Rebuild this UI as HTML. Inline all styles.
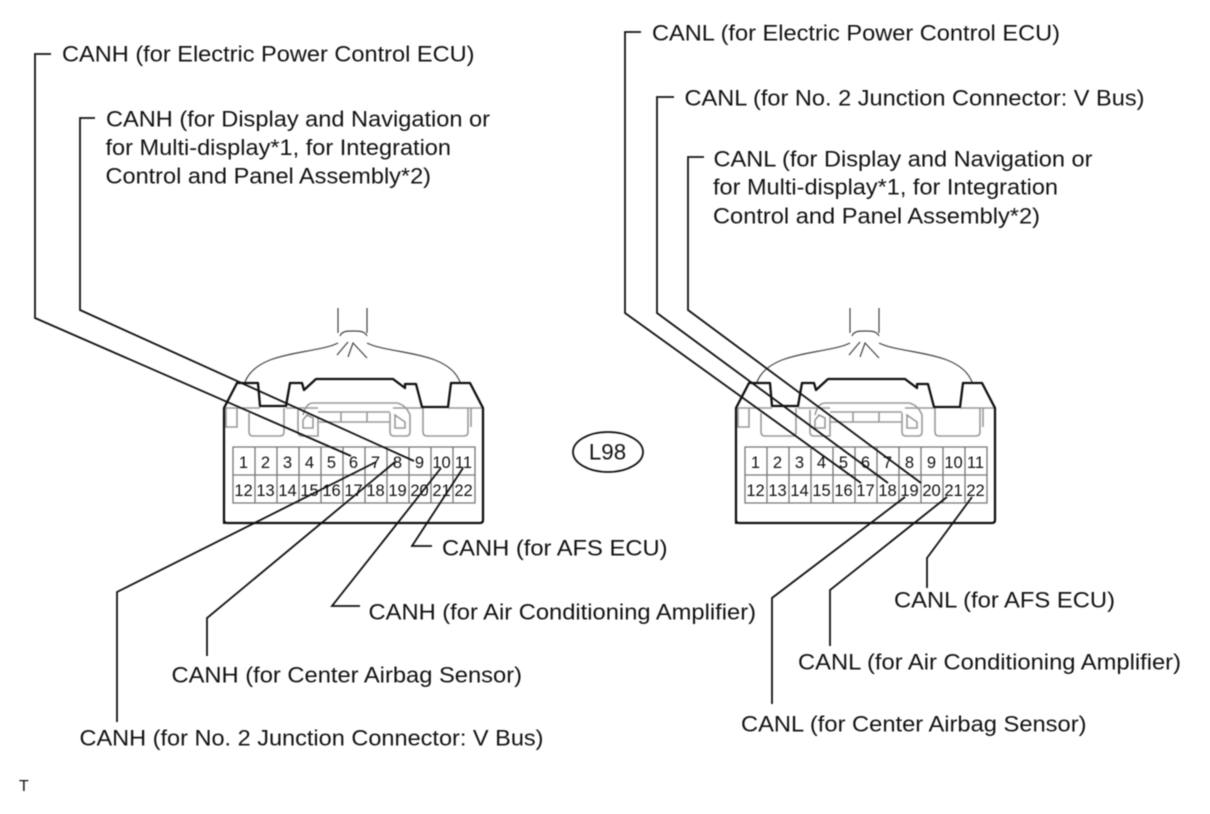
<!DOCTYPE html>
<html><head><meta charset="utf-8"><style>
html,body{margin:0;padding:0;background:#fff}
svg{display:block;filter:blur(0.55px)}
text{font-family:"Liberation Sans",sans-serif;fill:#111}
.l{font-size:22.3px}
.p{font-size:16.5px;text-anchor:middle}
.w{fill:none;stroke:#111;stroke-width:1.8}
.o{fill:none;stroke:#111;stroke-width:2.3;stroke-linejoin:round}
.g{fill:none;stroke:#999;stroke-width:1.6}
.h{fill:none;stroke:#444;stroke-width:1.2}
</style></head><body>
<svg width="1210" height="814" viewBox="0 0 1210 814" xmlns="http://www.w3.org/2000/svg">

<!-- LEFT CONNECTOR -->
<g>
<path class="h" d="M338 308V333M367 308V333M338 343C325 350 290 352 270 360C255 366 248 374 245 382M367 343C380 350 415 352 435 360C450 366 457 374 460 382M340 336C342 331 347 331 353 331C359 331 365 331 367 336M337 355L348 342M348 357L353 343L367 358"/>
<path class="g" d="M225 408H260M286 408H318M393 408H422M448 408H483M226 408V427H237V408M249 413V432Q249 436 253 436H280Q284 436 284 432V408M298 410V432Q298 436 302 436H318V417M303 415Q306 403 313 403H397Q406 405 410 415V432Q410 436 406 436H394Q390 436 390 432V413M318 412H390M318 422H390M341 412V422M367 412V422M303 428H313V418L307 415L303 420ZM395 428H405V422L395 415ZM423 408V432Q423 436 427 436H464Q468 436 468 432V408M471 408V427"/>
<path class="o" d="M224 523V408L237 383H258L260 406H286L290 383H302L304 390L316 379H393L405 388V384H416L422 407H448L451 383H470L483 408V520Q483 523 480 523H227Q224 523 224 520Z"/>
<path d="M233 447H475V503H233ZM233 475H475M255 447V503M277 447V503M299 447V503M321 447V503M343 447V503M365 447V503M387 447V503M409 447V503M431 447V503M453 447V503" fill="none" stroke="#777" stroke-width="1.3"/>
<text class="p" x="243.5" y="468">1</text><text class="p" x="265.5" y="468">2</text><text class="p" x="287.5" y="468">3</text><text class="p" x="309.5" y="468">4</text><text class="p" x="331.5" y="468">5</text><text class="p" x="353.5" y="468">6</text><text class="p" x="375.5" y="468">7</text><text class="p" x="397.5" y="468">8</text><text class="p" x="419.5" y="468">9</text><text class="p" x="441.5" y="468">10</text><text class="p" x="463.5" y="468">11</text>
<text class="p" x="243.5" y="496">12</text><text class="p" x="265.5" y="496">13</text><text class="p" x="287.5" y="496">14</text><text class="p" x="309.5" y="496">15</text><text class="p" x="331.5" y="496">16</text><text class="p" x="353.5" y="496">17</text><text class="p" x="375.5" y="496">18</text><text class="p" x="397.5" y="496">19</text><text class="p" x="419.5" y="496">20</text><text class="p" x="441.5" y="496">21</text><text class="p" x="463.5" y="496">22</text>
</g>

<!-- RIGHT CONNECTOR -->
<g transform="translate(512 0)">
<path class="h" d="M338 308V333M367 308V333M338 343C325 350 290 352 270 360C255 366 248 374 245 382M367 343C380 350 415 352 435 360C450 366 457 374 460 382M340 336C342 331 347 331 353 331C359 331 365 331 367 336M337 355L348 342M348 357L353 343L367 358"/>
<path class="g" d="M225 408H260M286 408H318M393 408H422M448 408H483M226 408V427H237V408M249 413V432Q249 436 253 436H280Q284 436 284 432V408M298 410V432Q298 436 302 436H318V417M303 415Q306 403 313 403H397Q406 405 410 415V432Q410 436 406 436H394Q390 436 390 432V413M318 412H390M318 422H390M341 412V422M367 412V422M303 428H313V418L307 415L303 420ZM395 428H405V422L395 415ZM423 408V432Q423 436 427 436H464Q468 436 468 432V408M471 408V427"/>
<path class="o" d="M224 523V408L237 383H258L260 406H286L290 383H302L304 390L316 379H393L405 388V384H416L422 407H448L451 383H470L483 408V520Q483 523 480 523H227Q224 523 224 520Z"/>
<path d="M233 447H475V503H233ZM233 475H475M255 447V503M277 447V503M299 447V503M321 447V503M343 447V503M365 447V503M387 447V503M409 447V503M431 447V503M453 447V503" fill="none" stroke="#777" stroke-width="1.3"/>
<text class="p" x="243.5" y="468">1</text><text class="p" x="265.5" y="468">2</text><text class="p" x="287.5" y="468">3</text><text class="p" x="309.5" y="468">4</text><text class="p" x="331.5" y="468">5</text><text class="p" x="353.5" y="468">6</text><text class="p" x="375.5" y="468">7</text><text class="p" x="397.5" y="468">8</text><text class="p" x="419.5" y="468">9</text><text class="p" x="441.5" y="468">10</text><text class="p" x="463.5" y="468">11</text>
<text class="p" x="243.5" y="496">12</text><text class="p" x="265.5" y="496">13</text><text class="p" x="287.5" y="496">14</text><text class="p" x="309.5" y="496">15</text><text class="p" x="331.5" y="496">16</text><text class="p" x="353.5" y="496">17</text><text class="p" x="375.5" y="496">18</text><text class="p" x="397.5" y="496">19</text><text class="p" x="419.5" y="496">20</text><text class="p" x="441.5" y="496">21</text><text class="p" x="463.5" y="496">22</text>
</g>

<!-- WIRES -->
<path class="w" d="M51 54H35V318L351 456"/>
<path class="w" d="M95 118H80V310L414 461"/>
<path class="w" d="M117 722V592L376 462"/>
<path class="w" d="M207 656V618L395 462"/>
<path class="w" d="M360 606H332L441 468"/>
<path class="w" d="M432 546H412L463 468"/>

<path class="w" d="M641 32H625V313L861 483"/>
<path class="w" d="M674 97H657V313L888 483"/>
<path class="w" d="M704 157H688V310L921 483"/>
<path class="w" d="M772 704V598L905 497"/>
<path class="w" d="M830 646V590L947 497"/>
<path class="w" d="M927 588V558L972 497"/>

<!-- LABELS -->
<text class="l" x="62" y="61.5" textLength="412.5" lengthAdjust="spacingAndGlyphs">CANH (for Electric Power Control ECU)</text>
<text class="l" x="106" y="126.5" textLength="384" lengthAdjust="spacingAndGlyphs">CANH (for Display and Navigation or</text>
<text class="l" x="105.5" y="155" textLength="345.5" lengthAdjust="spacingAndGlyphs">for Multi-display*1, for Integration</text>
<text class="l" x="105.5" y="183.5" textLength="325.5" lengthAdjust="spacingAndGlyphs">Control and Panel Assembly*2)</text>

<text class="l" x="652" y="40.5" textLength="408" lengthAdjust="spacingAndGlyphs">CANL (for Electric Power Control ECU)</text>
<text class="l" x="684.5" y="105.5" textLength="460" lengthAdjust="spacingAndGlyphs">CANL (for No. 2 Junction Connector: V Bus)</text>
<text class="l" x="713.5" y="166.5" textLength="379" lengthAdjust="spacingAndGlyphs">CANL (for Display and Navigation or</text>
<text class="l" x="713" y="194.5" textLength="345" lengthAdjust="spacingAndGlyphs">for Multi-display*1, for Integration</text>
<text class="l" x="713" y="223.5" textLength="327" lengthAdjust="spacingAndGlyphs">Control and Panel Assembly*2)</text>

<ellipse cx="608" cy="452" rx="35" ry="20" fill="none" stroke="#111" stroke-width="1.8"/>
<text class="l" x="607.5" y="459.5" text-anchor="middle">L98</text>

<text class="l" x="442" y="555.5" textLength="225.5" lengthAdjust="spacingAndGlyphs">CANH (for AFS ECU)</text>
<text class="l" x="368.5" y="619.5" textLength="387.5" lengthAdjust="spacingAndGlyphs">CANH (for Air Conditioning Amplifier)</text>
<text class="l" x="171.5" y="682.5" textLength="350.5" lengthAdjust="spacingAndGlyphs">CANH (for Center Airbag Sensor)</text>
<text class="l" x="79.5" y="745.5" textLength="464" lengthAdjust="spacingAndGlyphs">CANH (for No. 2 Junction Connector: V Bus)</text>

<text class="l" x="894" y="607.5" textLength="221" lengthAdjust="spacingAndGlyphs">CANL (for AFS ECU)</text>
<text class="l" x="798" y="669.5" textLength="383" lengthAdjust="spacingAndGlyphs">CANL (for Air Conditioning Amplifier)</text>
<text class="l" x="741" y="731.5" textLength="345.5" lengthAdjust="spacingAndGlyphs">CANL (for Center Airbag Sensor)</text>

<text x="19" y="791" style="font-size:16px">T</text>
</svg>
</body></html>
